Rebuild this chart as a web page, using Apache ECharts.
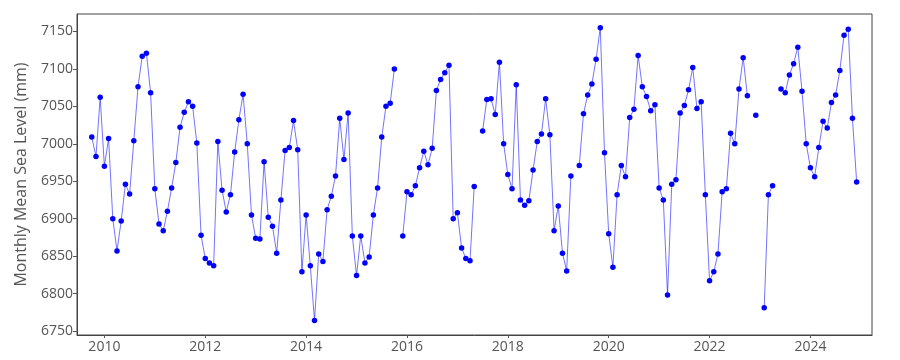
<!DOCTYPE html>
<html><head><meta charset="utf-8">
<script src="https://cdn.jsdelivr.net/npm/echarts@6/dist/echarts.min.js"></script>
<style>html,body{margin:0;padding:0;background:#fff}#c{width:900px;height:360px}</style>
</head><body><div id="c"></div>
<script>
// First month of the record and monthly mean sea level values (mm); null = missing month
const firstMonth = [2009, 10];
const seaLevel = [
  7009, 6983, 7062, 6970, 7007, 6900, 6857, 6897, 6946, 6933, 7004, 7076,
  7117, 7121, 7068, 6940, 6893, 6884, 6910, 6941, 6975, 7022, 7042, 7056,
  7050, 7001, 6878, 6847, 6841, 6837, 7003, 6938, 6909, 6932, 6989, 7032,
  7066, 7000, 6905, 6874, 6873, 6976, 6902, 6890, 6854, 6925, 6991, 6995,
  7031, 6992, 6829, 6905, 6837, 6764, 6853, 6843, 6912, 6930, 6957, 7034,
  6979, 7041, 6877, 6824, 6877, 6841, 6849, 6905, 6941, 7009, 7050, 7054,
  7100, null, 6877, 6936, 6932, 6944, 6968, 6990, 6972, 6994, 7071, 7086,
  7095, 7105, 6900, 6908, 6861, 6847, 6844, 6943, null, 7017, 7059, 7060,
  7039, 7109, 7000, 6959, 6940, 7079, 6925, 6918, 6924, 6965, 7003, 7013,
  7060, 7012, 6884, 6917, 6854, 6830, 6957, null, 6971, 7040, 7065, 7080,
  7113, 7155, 6988, 6880, 6835, 6932, 6971, 6956, 7035, 7046, 7118, 7076,
  7063, 7044, 7052, 6941, 6925, 6798, 6946, 6952, 7041, 7051, 7072, 7102,
  7047, 7056, 6932, 6817, 6829, 6853, 6936, 6940, 7014, 7000, 7073, 7115,
  7064, null, 7038, null, 6781, 6932, 6944, null, 7073, 7068, 7092, 7107,
  7129, 7070, 7000, 6968, 6956, 6995, 7030, 7021, 7055, 7065, 7098, 7145,
  7153, 7034, 6949
];
const xTickYears = [2010, 2012, 2014, 2016, 2018, 2020, 2022, 2024];
const yTicks = [6750, 6800, 6850, 6900, 6950, 7000, 7050, 7100, 7150];
const yAxisTitle = 'Monthly Mean Sea Level (mm)';

// month index -> decimal year
const points = seaLevel.map((v, i) => {
  const m = firstMonth[1] - 1 + i;
  const yr = firstMonth[0] + Math.floor(m / 12) + (m % 12) / 12;
  return [yr, v];
});

const FONT = 'Open Sans';
const TXT = '#555';
const chart = echarts.init(document.getElementById('c'), null, {renderer: 'canvas'});
chart.setOption({
  animation: false,
  grid: {left: 77, right: 28, top: 14, bottom: 25, show: true, borderColor: '#444', borderWidth: 1, backgroundColor: 'transparent'},
  xAxis: {
    type: 'value', min: 2009.457, max: 2025.221,
    splitLine: {show: false},
    axisLine: {show: true, lineStyle: {color: '#444'}},
    axisTick: {show: true, customValues: xTickYears, length: 3, lineStyle: {color: '#555'}},
    axisLabel: {customValues: xTickYears, formatter: v => String(Math.round(v)), color: TXT, fontFamily: FONT, fontSize: 14, margin: 5}
  },
  yAxis: {
    type: 'value', min: 6744.7, max: 7173.3,
    splitLine: {show: false},
    axisLine: {show: true, lineStyle: {color: '#444'}},
    axisTick: {show: true, customValues: yTicks, length: 4, lineStyle: {color: '#555'}},
    axisLabel: {customValues: yTicks, formatter: v => String(Math.round(v)), color: TXT, fontFamily: FONT, fontSize: 14, margin: 4},
    name: yAxisTitle, nameLocation: 'middle', nameGap: 48,
    nameTextStyle: {color: TXT, fontFamily: FONT, fontSize: 16}
  },
  series: [{
    type: 'line', data: points, connectNulls: false,
    showSymbol: true, showAllSymbol: true, symbol: 'circle', symbolSize: 5.5,
    itemStyle: {color: '#0000ff'},
    lineStyle: {color: '#0000ff', width: 1, opacity: 0.55},
    emphasis: {disabled: true}
  }]
});
</script></body></html>
